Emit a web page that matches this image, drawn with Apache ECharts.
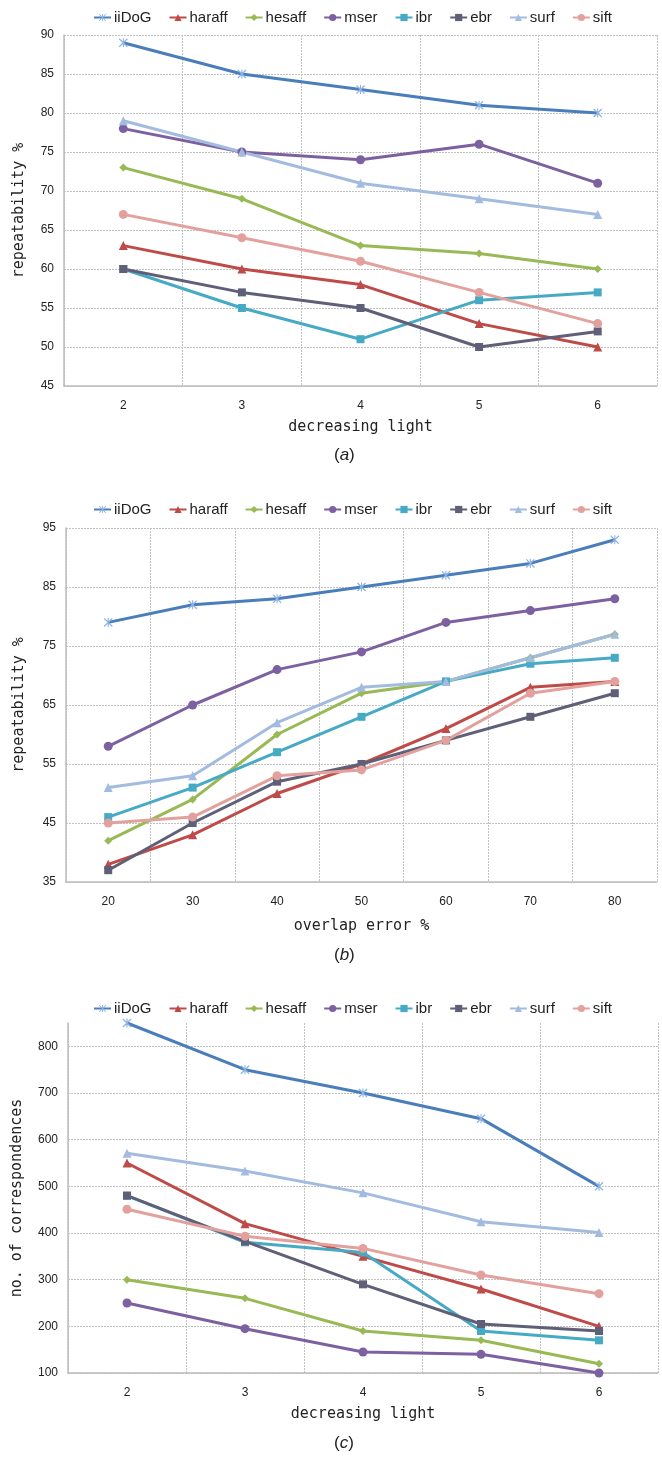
<!DOCTYPE html>
<html>
<head>
<meta charset="utf-8">
<title>detector comparison</title>
<script src="https://cdn.jsdelivr.net/npm/echarts@6/dist/echarts.min.js"></script>
<style>
  body { margin: 0; background: #fff; }
  #chart { width: 662px; height: 1458px; }
</style>
</head>
<body>
<div id="chart"></div>
<script>
const detectors = ['iiDoG', 'haraff', 'hesaff', 'mser', 'ibr', 'ebr', 'surf', 'sift'];

// (a) repeatability vs decreasing light
const lightSteps = ['2', '3', '4', '5', '6'];
const repeatLight = [
  [89, 85, 83, 81, 80],
  [63, 60, 58, 53, 50],
  [73, 69, 63, 62, 60],
  [78, 75, 74, 76, 71],
  [60, 55, 51, 56, 57],
  [60, 57, 55, 50, 52],
  [79, 75, 71, 69, 67],
  [67, 64, 61, 57, 53]
];

// (b) repeatability vs overlap error
const overlapSteps = ['20', '30', '40', '50', '60', '70', '80'];
const repeatOverlap = [
  [79, 82, 83, 85, 87, 89, 93],
  [38, 43, 50, 55, 61, 68, 69],
  [42, 49, 60, 67, 69, 73, 77],
  [58, 65, 71, 74, 79, 81, 83],
  [46, 51, 57, 63, 69, 72, 73],
  [37, 45, 52, 55, 59, 63, 67],
  [51, 53, 62, 68, 69, 73, 77],
  [45, 46, 53, 54, 59, 67, 69]
];

// (c) number of correspondences vs decreasing light
const corrLight = [
  [850, 750, 700, 645, 500],
  [550, 420, 350, 280, 200],
  [300, 260, 190, 170, 120],
  [250, 195, 145, 140, 100],
  [480, 380, 358, 190, 170],
  [480, 382, 290, 205, 190],
  [571, 533, 486, 424, 401],
  [451, 393, 367, 310, 270]
];

// axis ranges: [min, max, interval]
const rangeA = [45, 90, 5];
const rangeB = [35, 95, 10];
const rangeC = [100, 850, 100];

const starPath = 'path://M0,1L1,0L5,4L9,0L10,1L6,5L10,9L9,10L5,6L1,10L0,9L4,5Z M4.4,0L5.6,0L5.6,10L4.4,10Z';
const lineColors = ['#4a7ebb', '#be4b48', '#98b954', '#7d60a0', '#46aac5', '#5f5f78', '#a3bbdf', '#e3a19e'];
const markerColors = ['#8db3e2', '#be4b48', '#98b954', '#7d60a0', '#46aac5', '#5f5f78', '#a3bbdf', '#e3a19e'];
const markers = [starPath, 'triangle', 'diamond', 'circle', 'rect', 'rect', 'triangle', 'circle'];
const markerSizes = [9, 9, 8, 9, 8, 8, 9, 9];

const labelFont = 'Liberation Sans';
const titleFont = 'DejaVu Sans Mono';

function makeSeries(rows, idx) {
  return detectors.map(function (name, i) {
    return {
      name: name,
      type: 'line',
      xAxisIndex: idx,
      yAxisIndex: idx,
      data: rows[i],
      symbol: markers[i],
      symbolSize: markerSizes[i],
      showAllSymbol: true,
      clip: false,
      lineStyle: { width: 3, color: lineColors[i] },
      itemStyle: { color: markerColors[i] },
      emphasis: { disabled: true }
    };
  });
}

function makeLegend(top) {
  return {
    top: top,
    left: 88,
    data: detectors,
    itemWidth: 17,
    itemHeight: 9,
    itemGap: 17,
    selectedMode: false,
    textStyle: { fontFamily: labelFont, fontSize: 15, color: '#222', padding: [0, 0, 0, -2] }
  };
}

const gridLine = { show: true, lineStyle: { color: '#c2c2c2', width: 1, type: [2, 1] } };
const axisLine = { show: true, lineStyle: { color: '#bcbcbc', width: 1.5 } };

function makeX(idx, cats, name, nameGap) {
  return {
    type: 'category',
    gridIndex: idx,
    data: cats,
    boundaryGap: true,
    name: name,
    nameLocation: 'middle',
    nameGap: nameGap,
    nameTextStyle: { fontFamily: titleFont, fontSize: 15, color: '#222' },
    axisLine: axisLine,
    axisTick: { show: false },
    axisLabel: { margin: 14, fontFamily: labelFont, fontSize: 12, color: '#222' },
    splitLine: gridLine
  };
}

function makeY(idx, range, name, nameGap, showTop) {
  return {
    type: 'value',
    gridIndex: idx,
    min: range[0],
    max: range[1],
    interval: range[2],
    name: name,
    nameLocation: 'middle',
    nameGap: nameGap,
    nameTextStyle: { fontFamily: titleFont, fontSize: 15, color: '#222' },
    axisLine: axisLine,
    axisTick: { show: false },
    axisLabel: { margin: 10, fontFamily: labelFont, fontSize: 12, color: '#222', showMaxLabel: showTop },
    splitLine: { show: true, showMaxLine: showTop, lineStyle: gridLine.lineStyle }
  };
}

function panelLabel(letter, y) {
  return {
    type: 'text',
    left: 334,
    top: y - 10,
    style: {
      text: '{n|(}{i|' + letter + '}{n|)}',
      rich: {
        n: { fontFamily: labelFont, fontSize: 17, fill: '#222' },
        i: { fontFamily: labelFont, fontSize: 17, fontStyle: 'italic', fill: '#222' }
      }
    }
  };
}

const myChart = echarts.init(document.getElementById('chart'));

const option = {
  animation: false,
  backgroundColor: '#fff',
  legend: [makeLegend(5), makeLegend(497), makeLegend(996)],
  grid: [
    { left: 64, right: 5, top: 35, height: 351 },
    { left: 66, right: 5, top: 528, height: 354 },
    { left: 68, right: 4, top: 1023, height: 350 }
  ],
  xAxis: [
    makeX(0, lightSteps, 'decreasing light', 34),
    makeX(1, overlapSteps, 'overlap error %', 37),
    makeX(2, lightSteps, 'decreasing light', 34)
  ],
  yAxis: [
    makeY(0, rangeA, 'repeatability %', 37, true),
    makeY(1, rangeB, 'repeatability %', 39, true),
    makeY(2, rangeC, 'no. of correspondences', 43, false)
  ],
  graphic: [panelLabel('a', 457), panelLabel('b', 957), panelLabel('c', 1445)],
  series: [].concat(
    makeSeries(repeatLight, 0),
    makeSeries(repeatOverlap, 1),
    makeSeries(corrLight, 2)
  )
};

myChart.setOption(option);

window.addEventListener('resize', function () {
  myChart.resize();
});
</script>
</body>
</html>
